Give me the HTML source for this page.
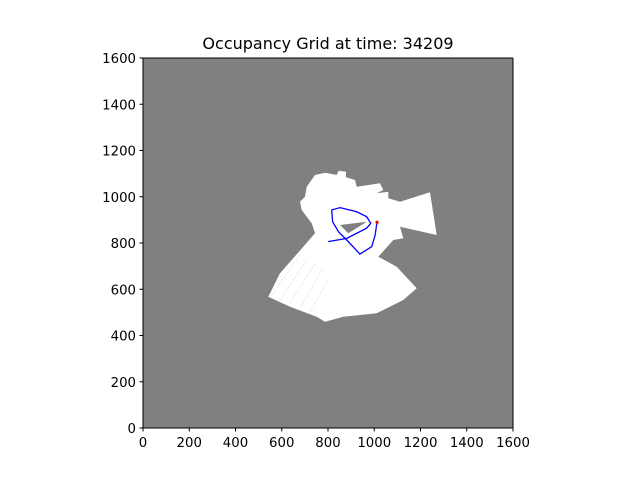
<!DOCTYPE html>
<html><head><meta charset="utf-8"><style>
body{margin:0;background:#fff;}
svg{display:block;font-family:"DejaVu Sans","Liberation Sans",sans-serif;}
</style></head><body>
<svg id="chart" width="640" height="480" viewBox="0 0 640 480">
<text x="328" y="49" text-anchor="middle" font-size="16">Occupancy Grid at time: 34209</text>
<rect x="143" y="58" width="370" height="370" fill="#808080"/>
<polygon fill="#fff" points="315,175 325.3,172.7 336.7,175 338.7,170.7 346,171.7 346,177.3 355,180 356.7,186.7 380,183.3 383.3,190 376.7,193.3 388.3,191.7 388.3,198.3 400,201.7 430,192.3 436.7,235 400,226.7 403.3,238.3 393.3,240 378.3,256.7 396.7,266.7 416.7,288.3 403.3,300 376.7,313.3 343.3,316.7 325,321.7 316.7,316.7 290,306.7 268.3,296.7 280,273.3 303.3,246.7 315,233.3 311.7,223.3 301.7,210 300,201.7 305,196.7 306.7,186.7"/>
<polygon fill="#808080" points="340,225 366.7,221.7 348.3,233.3"/>
<g stroke="#bbb" stroke-width="0.6" stroke-dasharray="1 2">
<line x1="272" y1="295" x2="300" y2="255"/><line x1="280" y1="300" x2="308" y2="258"/><line x1="290" y1="303" x2="316" y2="262"/><line x1="300" y1="308" x2="322" y2="270"/><line x1="310" y1="312" x2="328" y2="280"/>
</g>
<g stroke="#000" stroke-width="1" fill="none">
<line x1="143" y1="428" x2="513" y2="428"/><line x1="143" y1="58" x2="143" y2="428"/>
<line x1="513" y1="58" x2="513" y2="428"/><line x1="143" y1="58" x2="513" y2="58"/>
</g>
<g id="ticks"></g>
<path id="path" fill="none" stroke="#0000ff" stroke-width="1.3"/>
<circle id="robot" r="1.6" fill="#ff0000"/>
</svg>
<script>
const tickValues=[0,200,400,600,800,1000,1200,1400,1600];
const pathX=[801,881,967,985,967,924,852,816,820,845,881,938,989,1004,1011];
const pathY=[806,820,864,885,914,935,953,943,892,849,813,752,784,835,885];
const robotX=[1012];
const robotY=[890];
const sx=v=>143+v*370/1600, sy=v=>428-v*370/1600;
const NS="http://www.w3.org/2000/svg";
const g=document.getElementById('ticks');
tickValues.forEach(v=>{
 let l=document.createElementNS(NS,'line');
 l.setAttribute('x1',sx(v));l.setAttribute('x2',sx(v));l.setAttribute('y1',428);l.setAttribute('y2',431.5);l.setAttribute('stroke','#000');
 
 
 g.appendChild(l);
 let t=document.createElementNS(NS,'text');
 t.setAttribute('x',sx(v));t.setAttribute('y',447);t.setAttribute('text-anchor','middle');t.setAttribute('font-size','13.3');t.textContent=v;
 
 
 g.appendChild(t);
 let l2=document.createElementNS(NS,'line');
 l2.setAttribute('x1',139.5);l2.setAttribute('x2',143);l2.setAttribute('y1',sy(v));l2.setAttribute('y2',sy(v));l2.setAttribute('stroke','#000');
 
 
 g.appendChild(l2);
 let t2=document.createElementNS(NS,'text');
 t2.setAttribute('x',136);t2.setAttribute('y',sy(v)+5);t2.setAttribute('text-anchor','end');t2.setAttribute('font-size','13.3');t2.textContent=v;
 
 
 g.appendChild(t2);
});
document.getElementById('path').setAttribute('d',pathX.map((x,i)=>(i?'L':'M')+sx(x)+','+sy(pathY[i])).join(' '));
const r=document.getElementById('robot');r.setAttribute('cx',sx(robotX[0]));r.setAttribute('cy',sy(robotY[0]));
</script>
</body></html>
